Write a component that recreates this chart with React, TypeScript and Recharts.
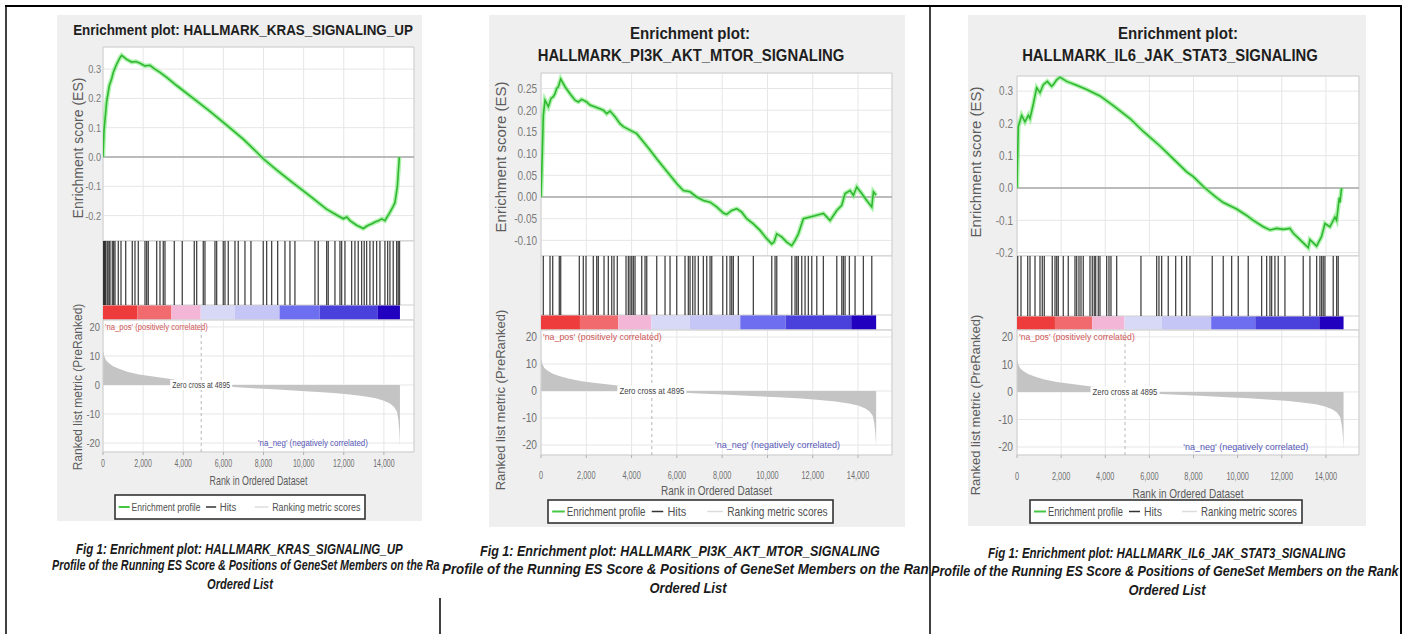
import React from "react";
import {
  LineChart,
  Line,
  AreaChart,
  Area,
  ComposedChart,
  XAxis,
  YAxis,
  CartesianGrid,
  ReferenceLine,
  ReferenceArea,
  ReferenceDot,
} from "recharts";

const FONT = '"Liberation Sans", Arial, Helvetica, sans-serif';

// ---------------- data ----------------
const X_TICKS = [0, 2000, 4000, 6000, 8000, 10000, 12000, 14000];
const X_MAX = 15500;
const ZERO_CROSS = 4895;
const NA_NEG_RANK = 13200;
const METRIC_TICKS = [-20, -10, 0, 10, 20];
const BAND_EDGES = [0, 1720, 3410, 4870, 6570, 8800, 10800, 13700, 14800];
const BAND_COLORS = ["#ee3b3b", "#f16a6e", "#f4b6d6", "#d8d8f7", "#c6c6f6", "#6e6ef0", "#4a40dc", "#2200c0"];

const METRIC: [number, number][] = [
  [0, 12], [60, 10], [150, 8.5], [300, 7.5], [500, 6.5], [800, 5.6], [1200, 4.6], [1800, 3.6],
  [2500, 2.9], [3200, 2.2], [3900, 1.5], [4500, 0.8], [4895, 0], [5500, -0.3], [6500, -0.7],
  [7500, -1.1], [8500, -1.5], [9500, -1.9], [10500, -2.3], [11500, -2.8], [12300, -3.3],
  [13000, -3.9], [13600, -4.6], [14000, -5.4], [14300, -6.4], [14500, -7.5], [14650, -9.2],
  [14720, -12], [14770, -16], [14800, -21],
];

const KRAS_TITLE = ["Enrichment plot: HALLMARK_KRAS_SIGNALING_UP"];
const KRAS_CAPTION = [
  "Fig 1: Enrichment plot: HALLMARK_KRAS_SIGNALING_UP",
  "Profile of the Running ES Score & Positions of GeneSet Members on the Ra",
  "Ordered List",
];
const KRAS_ES_TICKS = [-0.2, -0.1, 0, 0.1, 0.2, 0.3];
const KRAS_ES: [number, number][] = [
  [0, 0], [50, 0.09], [183, 0.19], [316, 0.244], [432, 0.267], [515, 0.289], [681, 0.317],
  [847, 0.339], [930, 0.347], [1180, 0.333], [1430, 0.324], [1640, 0.326], [1844, 0.32],
  [2093, 0.311], [2342, 0.313], [2590, 0.3], [2840, 0.289], [3172, 0.272], [3670, 0.244],
  [4500, 0.2], [5330, 0.156], [6160, 0.109], [6990, 0.061], [7655, 0.017], [7990, -0.006],
  [8650, -0.044], [9480, -0.089], [10310, -0.133], [11140, -0.178], [11640, -0.198],
  [11980, -0.211], [12150, -0.205], [12310, -0.217], [12640, -0.233], [12975, -0.244],
  [13100, -0.238], [13220, -0.233], [13400, -0.228], [13560, -0.222], [13720, -0.218],
  [13890, -0.211], [14050, -0.217], [14300, -0.189], [14450, -0.17], [14550, -0.156],
  [14670, -0.1], [14770, 0],
];
const KRAS_HITS = [
  30, 65, 110, 150, 234, 300, 349, 463, 530, 598, 762, 897, 1131, 1460, 1594, 1759, 2093, 2177,
  2257, 2676, 2840, 3004, 3089, 3553, 3951, 4549, 4669, 4998, 5082, 5581, 5665, 5994, 6079, 6243,
  6577, 6741, 7075, 7374, 7987, 8156, 8406, 8705, 9068, 9317, 9566, 10563, 10727, 11146, 11226,
  11560, 11809, 11893, 12058, 12392, 12556, 12721, 12890, 13019, 13139, 13303, 13468, 13637,
  13802, 14051, 14186, 14300, 14464, 14634, 14713, 14780,
];

const PI3K_TITLE = ["Enrichment plot:", "HALLMARK_PI3K_AKT_MTOR_SIGNALING"];
const PI3K_CAPTION = [
  "Fig 1: Enrichment plot: HALLMARK_PI3K_AKT_MTOR_SIGNALING",
  "Profile of the Running ES Score & Positions of GeneSet Members on the Ran",
  "Ordered List",
];
const PI3K_ES_TICKS = [-0.1, -0.05, 0, 0.05, 0.1, 0.15, 0.2, 0.25];
const PI3K_ES: [number, number][] = [
  [0, 0], [59, 0.104], [103, 0.188], [177, 0.223], [324, 0.208], [442, 0.227], [545, 0.231],
  [618, 0.238], [692, 0.25], [766, 0.254], [869, 0.272], [1060, 0.254], [1281, 0.238],
  [1502, 0.223], [1649, 0.219], [1796, 0.225], [2017, 0.219], [2164, 0.212], [2459, 0.206],
  [2753, 0.2], [2900, 0.192], [3048, 0.198], [3269, 0.185], [3489, 0.169], [3637, 0.162],
  [3931, 0.154], [4226, 0.146], [4520, 0.127], [4814, 0.108], [5109, 0.088], [5403, 0.069],
  [5698, 0.05], [5992, 0.031], [6287, 0.015], [6581, 0.012], [6876, 0], [7170, -0.008],
  [7465, -0.012], [7759, -0.023], [8054, -0.037], [8201, -0.04], [8422, -0.031], [8643, -0.027],
  [8864, -0.035], [9084, -0.05], [9379, -0.062], [9673, -0.077], [9968, -0.096], [10189, -0.108],
  [10292, -0.104], [10409, -0.085], [10630, -0.092], [10851, -0.104], [11072, -0.112],
  [11219, -0.1], [11366, -0.085], [11587, -0.05], [11882, -0.046], [12176, -0.042],
  [12470, -0.038], [12765, -0.054], [13060, -0.031], [13280, -0.019], [13428, 0.008],
  [13648, 0.015], [13796, 0.004], [13943, 0.023], [14164, 0.008], [14385, -0.008],
  [14606, -0.023], [14679, 0.012], [14800, 0.004],
];
const PI3K_HITS = [
  102, 398, 517, 808, 870, 1692, 1868, 1988, 2310, 2460, 2531, 2783, 2973, 3123, 3224, 3370, 3754,
  3856, 3931, 4006, 4077, 4152, 4448, 4594, 4669, 5110, 5477, 5698, 5994, 6360, 6506, 6581, 6700,
  6802, 6948, 7169, 7319, 7465, 7540, 8026, 8202, 8348, 8423, 8494, 8715, 9377, 10190, 10336,
  10411, 11073, 11219, 11294, 11365, 11515, 11661, 11806, 11957, 12178, 12469, 13061, 13282,
  13352, 13428, 13618, 13869, 14236, 14607,
];

const IL6_TITLE = ["Enrichment plot:", "HALLMARK_IL6_JAK_STAT3_SIGNALING"];
const IL6_CAPTION = [
  "Fig 1: Enrichment plot: HALLMARK_IL6_JAK_STAT3_SIGNALING",
  "Profile of the Running ES Score & Positions of GeneSet Members on the Rank",
  "Ordered List",
];
const IL6_ES_TICKS = [-0.2, -0.1, 0, 0.1, 0.2, 0.3];
const IL6_ES: [number, number][] = [
  [0, 0], [15, 0.06], [60, 0.19], [211, 0.225], [362, 0.205], [513, 0.225], [589, 0.215],
  [740, 0.26], [891, 0.31], [1042, 0.295], [1193, 0.32], [1374, 0.33], [1571, 0.315],
  [1646, 0.32], [1797, 0.335], [1948, 0.343], [2250, 0.33], [2703, 0.318], [3157, 0.305],
  [3761, 0.285], [4365, 0.255], [5120, 0.215], [5724, 0.175], [6479, 0.13], [7083, 0.09],
  [7688, 0.05], [7990, 0.035], [8518, 0.0], [9047, -0.03], [9349, -0.045], [9953, -0.065],
  [10406, -0.085], [10708, -0.1], [11161, -0.12], [11463, -0.13], [11765, -0.125],
  [12068, -0.128], [12370, -0.125], [12521, -0.14], [12823, -0.16], [13125, -0.18],
  [13200, -0.185], [13276, -0.16], [13427, -0.17], [13578, -0.18], [13805, -0.15],
  [13956, -0.11], [14182, -0.12], [14409, -0.09], [14485, -0.1], [14605, -0.03],
  [14636, -0.045], [14712, 0.0],
];
const IL6_HITS = [
  32, 181, 485, 589, 816, 1042, 1146, 1237, 1599, 1722, 1799, 1871, 2098, 2324, 2628, 2705, 2809,
  2900, 3004, 3308, 3412, 3502, 3566, 3684, 3761, 4064, 4169, 4259, 4517, 5618, 6330, 6434, 6556,
  6855, 7191, 7463, 7689, 7839, 8849, 9347, 9728, 10027, 10480, 11087, 11314, 11463, 11541,
  11690, 11840, 12143, 12972, 13276, 13580, 13729, 13806, 13879, 13956, 14332, 14486, 14558,
];

const LEGEND_LABELS = ["Enrichment profile", "Hits", "Ranking metric scores"];
const Y_LABELS = ["Enrichment score (ES)", "Ranked list metric (PreRanked)"];
const X_LABEL = "Rank in Ordered Dataset";
const ZERO_LABEL = `Zero cross at ${ZERO_CROSS}`;
const NA_POS = "'na_pos' (positively correlated)";
const NA_NEG = "'na_neg' (negatively correlated)";

// ---------------- layout (pixels) ----------------
type TextBox = { x0?: number; cx?: number; cy: number; w: number; fs: number };
type Layout = {
  bg: [number, number, number, number];
  px0: number; px1: number; yw: number;
  esTop: number; esBottom: number; esDomain: [number, number];
  hitsTop: number; barTop: number; metTop: number; metBottom: number; metDomain: [number, number];
  esTickFs: number; esTickSx: number; esTickGap: number;
  metTickFs: number; metTickSx: number; metTickGap: number;
  xTickFs: number; xTickY: number; xLabelY: number; xLabelW: number; xLabelFs: number;
  legend: [number, number, number, number];
  yEs: { cx: number; cy: number; len: number; fs: number };
  yMet: { cx: number; cy: number; len: number; fs: number };
  zeroW: number; posW: number; negW: number; smallFs: number;
  titles: TextBox[]; captions: TextBox[];
};

const KRAS_LAYOUT: Layout = {
  bg: [57, 15, 422, 521], px0: 103, px1: 414, yw: 40,
  esTop: 47, esBottom: 241, esDomain: [-0.2867, 0.3754],
  hitsTop: 241, barTop: 305, metTop: 320, metBottom: 452, metDomain: [-23.1, 22.4],
  esTickFs: 11.5, esTickSx: 0.8, esTickGap: 2,
  metTickFs: 11, metTickSx: 0.85, metTickGap: 3,
  xTickFs: 10, xTickY: 463, xLabelY: 480, xLabelW: 98, xLabelFs: 12,
  legend: [115, 495, 365, 519],
  yEs: { cx: 78, cy: 148, len: 160, fs: 14 },
  yMet: { cx: 78, cy: 387, len: 173, fs: 12 },
  zeroW: 58, posW: 103, negW: 110, smallFs: 8.5,
  titles: [{ cx: 243, cy: 30, w: 340, fs: 15.5 }],
  captions: [
    { x0: 76, cy: 549, w: 327, fs: 14 },
    { x0: 52, cy: 566, w: 388, fs: 14 },
    { cx: 240, cy: 585, w: 66, fs: 14 },
  ],
};

const PI3K_LAYOUT: Layout = {
  bg: [489, 15, 905, 527], px0: 541, px1: 892, yw: 45,
  esTop: 73, esBottom: 256, esDomain: [-0.136, 0.2857],
  hitsTop: 256, barTop: 315, metTop: 330, metBottom: 455, metDomain: [-23.7, 22.6],
  esTickFs: 12.5, esTickSx: 0.8, esTickGap: 4,
  metTickFs: 12, metTickSx: 0.85, metTickGap: 4,
  xTickFs: 10.5, xTickY: 475, xLabelY: 490, xLabelW: 111, xLabelFs: 13,
  legend: [548, 500, 833, 523],
  yEs: { cx: 500, cy: 157, len: 165, fs: 15 },
  yMet: { cx: 500, cy: 400, len: 190, fs: 13 },
  zeroW: 65, posW: 119, negW: 125, smallFs: 9,
  titles: [
    { cx: 690, cy: 33, w: 120, fs: 17 },
    { cx: 691, cy: 55, w: 307, fs: 17 },
  ],
  captions: [
    { x0: 480, cy: 551, w: 400, fs: 15 },
    { x0: 442, cy: 569, w: 487, fs: 15 },
    { cx: 688, cy: 588, w: 77, fs: 15 },
  ],
};

const IL6_LAYOUT: Layout = {
  bg: [968, 15, 1366, 526], px0: 1017, px1: 1359, yw: 45,
  esTop: 76, esBottom: 256, esDomain: [-0.2105, 0.3467],
  hitsTop: 256, barTop: 316, metTop: 330, metBottom: 455, metDomain: [-22.9, 22.5],
  esTickFs: 12.5, esTickSx: 0.8, esTickGap: 4,
  metTickFs: 12, metTickSx: 0.85, metTickGap: 4,
  xTickFs: 10.5, xTickY: 476, xLabelY: 493, xLabelW: 111, xLabelFs: 13,
  legend: [1030, 500, 1302, 523],
  yEs: { cx: 975, cy: 162, len: 165, fs: 15 },
  yMet: { cx: 975, cy: 405, len: 190, fs: 13 },
  zeroW: 65, posW: 116, negW: 127, smallFs: 9,
  titles: [
    { cx: 1178, cy: 33, w: 120, fs: 17 },
    { cx: 1170, cy: 55, w: 296, fs: 17 },
  ],
  captions: [
    { x0: 988, cy: 553, w: 358, fs: 15 },
    { x0: 931, cy: 571, w: 468, fs: 15 },
    { cx: 1167, cy: 590, w: 77, fs: 15 },
  ],
};

type Panel = {
  key: string;
  es: [number, number][];
  hits: number[];
  esTicks: number[];
  esDec: number;
  title: string[];
  caption: string[];
  L: Layout;
};

const PANELS: Panel[] = [
  { key: "kras", es: KRAS_ES, hits: KRAS_HITS, esTicks: KRAS_ES_TICKS, esDec: 1, title: KRAS_TITLE, caption: KRAS_CAPTION, L: KRAS_LAYOUT },
  { key: "pi3k", es: PI3K_ES, hits: PI3K_HITS, esTicks: PI3K_ES_TICKS, esDec: 2, title: PI3K_TITLE, caption: PI3K_CAPTION, L: PI3K_LAYOUT },
  { key: "il6", es: IL6_ES, hits: IL6_HITS, esTicks: IL6_ES_TICKS, esDec: 1, title: IL6_TITLE, caption: IL6_CAPTION, L: IL6_LAYOUT },
];

// ---------------- text fitting ----------------
// The source picture uses a narrow face; we keep the real glyph height (fs) and pick a
// font size whose natural width equals the wanted width, then stretch it vertically.
let measureCtx: CanvasRenderingContext2D | null = null;
function measureWidth(text: string, fs: number, weight: string | number, italic: boolean): number {
  if (!measureCtx && typeof document !== "undefined") {
    measureCtx = document.createElement("canvas").getContext("2d");
  }
  if (!measureCtx) return text.length * fs * 0.55;
  measureCtx.font = `${italic ? "italic " : ""}${weight} ${fs}px "Liberation Sans", Arial, sans-serif`;
  return measureCtx.measureText(text).width || text.length * fs * 0.55;
}

function NarrowText(props: {
  x: number; y: number; w: number; fs: number; anchor?: "start" | "middle" | "end";
  weight?: string | number; italic?: boolean; fill?: string; children: string; rotate?: boolean;
}) {
  const { x, y, w, fs, anchor = "start", weight = "normal", italic = false, fill = "#222", children, rotate } = props;
  const natural = measureWidth(children, fs, weight, italic);
  const fs2 = Math.min(fs, (fs * w) / natural);
  const sy = fs / fs2;
  const tr = rotate
    ? `translate(${x},${y}) rotate(-90) scale(1,${sy})`
    : `translate(${x},${y}) scale(1,${sy})`;
  return (
    <text
      transform={tr}
      x={0}
      y={0}
      textAnchor={rotate ? "middle" : anchor}
      dominantBaseline="central"
      fontSize={fs2}
      fontWeight={weight}
      fontStyle={italic ? "italic" : "normal"}
      fill={fill}
      fontFamily={FONT}
    >
      {children}
    </text>
  );
}

// ---------------- chart helpers ----------------
const ScaledTick = (props: any) => {
  const { x, y, payload, fmt, fs, sx, anchor, fill, dy } = props;
  return (
    <g transform={`translate(${x},${y})`}>
      <text transform={`scale(${sx},1)`} x={0} y={0} dy={dy} textAnchor={anchor} fontSize={fs} fill={fill} fontFamily={FONT}>
        {fmt(payload.value)}
      </text>
    </g>
  );
};

const dotLabel =
  (text: string, w: number, fs: number, fill: string, anchor: "start" | "middle" | "end", bg: boolean, dx: number) =>
  (props: any) => {
    const vb = props.viewBox || {};
    const cx = (vb.x ?? 0) + (vb.width ?? 0) / 2 + dx;
    const cy = (vb.y ?? 0) + (vb.height ?? 0) / 2;
    const left = anchor === "start" ? cx : anchor === "end" ? cx - w : cx - w / 2;
    return (
      <g>
        {bg && <rect x={left - 2} y={cy - fs * 0.6} width={w + 4} height={fs * 1.2} fill="#ffffff" />}
        <NarrowText x={cx} y={cy} w={w} fs={fs} anchor={anchor} fill={fill}>
          {text}
        </NarrowText>
      </g>
    );
  };

// ---------------- charts ----------------
function EsChart({ p }: { p: Panel }) {
  const L = p.L;
  const plotW = L.px1 - L.px0;
  const h = L.esBottom - L.esTop;
  const data = p.es.map(([r, v]) => ({ r, es: v }));
  return (
    <div style={{ position: "absolute", left: L.px0 - L.yw, top: L.esTop - 1 }}>
      <LineChart width={L.yw + plotW + 2} height={h + 2} data={data} margin={{ top: 1, right: 2, bottom: 1, left: 0 }}>
        <CartesianGrid stroke="#e6e6e6" fill="#ffffff" />
        <XAxis type="number" dataKey="r" domain={[0, X_MAX]} ticks={X_TICKS} interval={0} hide allowDataOverflow />
        <YAxis
          type="number"
          domain={L.esDomain}
          ticks={p.esTicks}
          interval={0}
          width={L.yw}
          allowDataOverflow
          axisLine={false}
          tickLine={false}
          tickSize={0}
          tickMargin={L.esTickGap}
          tick={
            <ScaledTick
              fmt={(v: number) => v.toFixed(p.esDec)}
              fs={L.esTickFs}
              sx={L.esTickSx}
              anchor="end"
              fill="#7a7a7a"
              dy="0.35em"
            />
          }
        />
        <ReferenceLine y={0} stroke="#a9a9a9" strokeWidth={1.5} />
        <ReferenceArea x1={0} x2={X_MAX} y1={L.esDomain[0]} y2={L.esDomain[1]} fill="none" fillOpacity={0} stroke="#cfcfcf" />
        <Line type="linear" dataKey="es" stroke="#78ea78" strokeWidth={4.5} strokeOpacity={0.6} dot={false} isAnimationActive={false} />
        <Line type="linear" dataKey="es" stroke="#30b830" strokeWidth={1.6} dot={false} isAnimationActive={false} />
      </LineChart>
    </div>
  );
}

function HitsChart({ p }: { p: Panel }) {
  const L = p.L;
  const plotW = L.px1 - L.px0;
  const h = L.metTop - L.hitsTop;
  const barFrac = (L.metTop - L.barTop) / h;
  const data = p.hits.map((r) => ({ r, v: 1 }));
  return (
    <div style={{ position: "absolute", left: L.px0 - L.yw, top: L.hitsTop - 1 }}>
      <ComposedChart width={L.yw + plotW + 2} height={h + 2} data={data} margin={{ top: 1, right: 2, bottom: 1, left: L.yw }}>
        <XAxis type="number" dataKey="r" domain={[0, X_MAX]} hide allowDataOverflow />
        <YAxis type="number" domain={[0, 1]} hide allowDataOverflow />
        <ReferenceArea x1={0} x2={X_MAX} y1={0} y2={1} fill="#ffffff" fillOpacity={1} stroke="#cfcfcf" />
        {BAND_COLORS.map((c, i) => (
          <ReferenceArea
            key={`b${i}`}
            x1={BAND_EDGES[i]}
            x2={BAND_EDGES[i + 1]}
            y1={0}
            y2={barFrac}
            fill={c}
            fillOpacity={1}
            stroke="none"
          />
        ))}
        <ReferenceLine y={barFrac} stroke="#cfcfcf" />
        {p.hits.map((r, i) => (
          <ReferenceLine
            key={`h${i}`}
            segment={[
              { x: r, y: barFrac },
              { x: r, y: 1 },
            ]}
            stroke="#111111"
            strokeOpacity={0.78}
            strokeWidth={1.3}
          />
        ))}
      </ComposedChart>
    </div>
  );
}

function MetricChart({ p }: { p: Panel }) {
  const L = p.L;
  const plotW = L.px1 - L.px0;
  const h = L.metBottom - L.metTop;
  const xh = L.xTickY - L.metBottom + 10;
  const tickSize = 3;
  const tickMargin = L.xTickY - L.metBottom - tickSize - 0.36 * L.xTickFs;
  const data = METRIC.map(([r, v]) => ({ r, v }));
  return (
    <div style={{ position: "absolute", left: L.px0 - L.yw, top: L.metTop - 1 }}>
      <AreaChart width={L.yw + plotW + 2} height={h + 1 + xh} data={data} margin={{ top: 1, right: 2, bottom: 0, left: 0 }}>
        <CartesianGrid stroke="#e6e6e6" fill="#ffffff" />
        <XAxis
          type="number"
          dataKey="r"
          domain={[0, X_MAX]}
          ticks={X_TICKS}
          interval={0}
          height={xh}
          allowDataOverflow
          axisLine={false}
          tickLine={{ stroke: "#b0b0b0" }}
          tickSize={tickSize}
          tickMargin={tickMargin}
          tick={
            <ScaledTick
              fmt={(v: number) => v.toLocaleString("en-US")}
              fs={L.xTickFs}
              sx={0.7}
              anchor="middle"
              fill="#707070"
              dy="0.71em"
            />
          }
        />
        <YAxis
          type="number"
          domain={L.metDomain}
          ticks={METRIC_TICKS}
          interval={0}
          width={L.yw}
          allowDataOverflow
          axisLine={false}
          tickLine={false}
          tickSize={0}
          tickMargin={L.metTickGap}
          tick={
            <ScaledTick
              fmt={(v: number) => String(v)}
              fs={L.metTickFs}
              sx={L.metTickSx}
              anchor="end"
              fill="#707070"
              dy="0.35em"
            />
          }
        />
        <Area type="linear" dataKey="v" baseValue={0} fill="#c4c4c4" fillOpacity={1} stroke="none" isAnimationActive={false} />
        <ReferenceLine x={ZERO_CROSS} stroke="#b8b8b8" strokeDasharray="3 3" />
        <ReferenceArea x1={0} x2={X_MAX} y1={L.metDomain[0]} y2={L.metDomain[1]} fill="none" fillOpacity={0} stroke="#cfcfcf" />
        <ReferenceDot
          x={ZERO_CROSS}
          y={0}
          r={0}
          fill="none"
          stroke="none"
          label={dotLabel(ZERO_LABEL, L.zeroW, L.smallFs, "#444444", "middle", true, 0)}
        />
        <ReferenceDot
          x={0}
          y={20}
          r={0}
          fill="none"
          stroke="none"
          label={dotLabel(NA_POS, L.posW, L.smallFs, "#cf5858", "start", false, 2)}
        />
        <ReferenceDot
          x={NA_NEG_RANK}
          y={-20}
          r={0}
          fill="none"
          stroke="none"
          label={dotLabel(NA_NEG, L.negW, L.smallFs, "#5858b8", "end", false, 0)}
        />
      </AreaChart>
    </div>
  );
}

function LegendBox({ box }: { box: [number, number, number, number] }) {
  const [x0, y0, x1, y1] = box;
  const k = (x1 - x0) / 272;
  const cy = (y0 + y1) / 2;
  const fs = 12 * k;
  const X = (v: number) => x0 + v * k;
  return (
    <g>
      <rect x={x0} y={y0} width={x1 - x0} height={y1 - y0} fill="#ffffff" stroke="#333333" strokeWidth={1.6} />
      <line x1={X(4)} x2={X(16)} y1={cy} y2={cy} stroke="#44c844" strokeWidth={2} />
      <NarrowText x={X(18)} y={cy} w={75 * k} fs={fs} fill="#505050">{LEGEND_LABELS[0]}</NarrowText>
      <line x1={X(99)} x2={X(110)} y1={cy} y2={cy} stroke="#333333" strokeWidth={1.5} />
      <NarrowText x={X(114)} y={cy} w={18 * k} fs={fs} fill="#505050">{LEGEND_LABELS[1]}</NarrowText>
      <line x1={X(152)} x2={X(167)} y1={cy} y2={cy} stroke="#dcdcdc" strokeWidth={1.5} />
      <NarrowText x={X(171)} y={cy} w={96 * k} fs={fs} fill="#505050">{LEGEND_LABELS[2]}</NarrowText>
    </g>
  );
}

function Overlay() {
  return (
    <svg
      width={1407}
      height={634}
      style={{ position: "absolute", left: 0, top: 0, pointerEvents: "none" }}
    >
      {/* document table borders */}
      <line x1={5} y1={6} x2={1402} y2={6} stroke="#000" strokeWidth={2} />
      <line x1={6} y1={5} x2={6} y2={634} stroke="#000" strokeWidth={1.5} />
      <line x1={440} y1={598} x2={440} y2={634} stroke="#000" strokeWidth={1.5} />
      <line x1={930} y1={5} x2={930} y2={634} stroke="#000" strokeWidth={1.5} />
      <line x1={1401} y1={5} x2={1401} y2={634} stroke="#000" strokeWidth={2} />

      {PANELS.map((p) => {
        const L = p.L;
        const plotCx = (L.px0 + L.px1) / 2;
        return (
          <g key={p.key}>
            {p.title.map((t, i) => (
              <NarrowText key={`t${i}`} x={L.titles[i].cx as number} y={L.titles[i].cy} w={L.titles[i].w} fs={L.titles[i].fs} anchor="middle" weight="bold" fill="#1e1e1e">
                {t}
              </NarrowText>
            ))}
            <NarrowText x={L.yEs.cx} y={L.yEs.cy} w={L.yEs.len} fs={L.yEs.fs} fill="#5c5c5c" rotate>
              {Y_LABELS[0]}
            </NarrowText>
            <NarrowText x={L.yMet.cx} y={L.yMet.cy} w={L.yMet.len} fs={L.yMet.fs} fill="#5c5c5c" rotate>
              {Y_LABELS[1]}
            </NarrowText>
            <NarrowText x={plotCx} y={L.xLabelY} w={L.xLabelW} fs={L.xLabelFs} anchor="middle" fill="#5c5c5c">
              {X_LABEL}
            </NarrowText>
            <LegendBox box={L.legend} />
            {p.caption.map((c, i) => {
              const b = L.captions[i];
              const anchor = b.cx !== undefined ? "middle" : "start";
              const x = b.cx !== undefined ? b.cx : (b.x0 as number);
              return (
                <NarrowText key={`c${i}`} x={x} y={b.cy} w={b.w} fs={b.fs} anchor={anchor} weight="bold" italic fill="#1a1a1a">
                  {c}
                </NarrowText>
              );
            })}
          </g>
        );
      })}
    </svg>
  );
}

export default function App() {
  return (
    <div
      style={{
        position: "absolute",
        left: 0,
        top: 0,
        width: 1407,
        height: 634,
        background: "#ffffff",
        overflow: "hidden",
        fontFamily: FONT,
      }}
    >
      <style>{`.recharts-surface { overflow: visible; }`}</style>
      {PANELS.map((p) => (
        <div
          key={`bg-${p.key}`}
          style={{
            position: "absolute",
            left: p.L.bg[0],
            top: p.L.bg[1],
            width: p.L.bg[2] - p.L.bg[0],
            height: p.L.bg[3] - p.L.bg[1],
            background: "#efefef",
          }}
        />
      ))}
      {PANELS.map((p) => (
        <React.Fragment key={`charts-${p.key}`}>
          <EsChart p={p} />
          <HitsChart p={p} />
          <MetricChart p={p} />
        </React.Fragment>
      ))}
      <Overlay />
    </div>
  );
}
